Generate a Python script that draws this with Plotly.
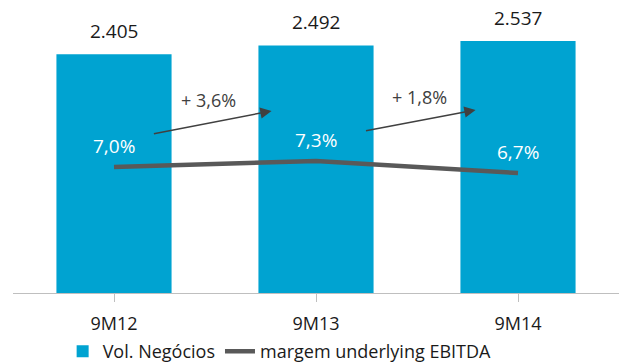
import plotly.graph_objects as go

categories = ["9M12", "9M13", "9M14"]
vol_negocios = [2405, 2492, 2537]
margem = [7.0, 7.3, 6.7]
margem_labels = ["7,0%", "7,3%", "6,7%"]
value_labels = ["2.405", "2.492", "2.537"]
growth_labels = ["+ 3,6%", "+ 1,8%"]

BLUE = "#00A3D1"
GREY = "#595959"
FONT = "Open Sans"

fig = go.Figure()
fig.add_trace(go.Bar(x=[0, 1, 2], y=vol_negocios, name="Vol. Negócios",
                     marker=dict(color=BLUE, line=dict(width=0)), width=0.57))
fig.add_trace(go.Scatter(x=[0, 1, 2], y=margem, name="margem underlying EBITDA",
                         mode="lines", line=dict(color=GREY, width=4.5), yaxis="y2"))

ann = []
for i, (v, t) in enumerate(zip(vol_negocios, value_labels)):
    ann.append(dict(x=i, y=v, text=t, showarrow=False, yanchor="bottom", yshift=8,
                    font=dict(family=FONT, size=19, color="#1a1a1a")))
for i, (m, t) in enumerate(zip(margem, margem_labels)):
    ann.append(dict(x=i, y=m, yref="y2", text=t, showarrow=False, yanchor="middle", yshift=21,
                    font=dict(family=FONT, size=19, color="white")))
# growth arrows between bars
arrow_tail = [(0.19, 1601), (1.24, 1631)]
arrow_head = [(0.78, 1833), (1.79, 1843)]
label_pos = [(0.47, 1943), (1.51, 1974)]
for (tx, ty), (hx, hy), (lx, ly), g in zip(arrow_tail, arrow_head, label_pos, growth_labels):
    ann.append(dict(x=hx, y=hy, ax=tx, ay=ty, axref="x", ayref="y", xref="x", yref="y",
                    text="", showarrow=True, arrowhead=2, arrowsize=1.5, arrowwidth=1.5,
                    arrowcolor="#404040"))
    ann.append(dict(x=lx, y=ly, text=g, showarrow=False,
                    font=dict(family=FONT, size=18, color="#404040")))

fig.update_layout(
    width=619, height=362,
    margin=dict(l=13, r=0, t=0, b=69, autoexpand=False),
    paper_bgcolor="white", plot_bgcolor="white",
    font=dict(family=FONT, size=17, color="#1a1a1a"),
    xaxis=dict(tickmode="array", tickvals=[0, 1, 2], ticktext=categories,
               range=[-0.5, 2.5], showline=True, linecolor="#bfbfbf", linewidth=1,
               ticks="outside", tickson="boundaries", ticklen=8, tickcolor="#bfbfbf",
               ticklabelstandoff=6, automargin=False,
               showgrid=False, zeroline=False, tickfont=dict(size=18, family=FONT)),
    yaxis=dict(range=[0, 2950], visible=False, showgrid=False, zeroline=False),
    yaxis2=dict(range=[0.7, 15.35], overlaying="y", visible=False, showgrid=False,
                zeroline=False),
    showlegend=True,
    legend=dict(orientation="h", x=0.44, xanchor="center", y=-0.2, yanchor="middle",
                font=dict(family=FONT, size=18, color="#1a1a1a"), itemwidth=30,
                tracegroupgap=0, bgcolor="rgba(0,0,0,0)"),
    annotations=ann,
)

fig.write_html("out.html")
